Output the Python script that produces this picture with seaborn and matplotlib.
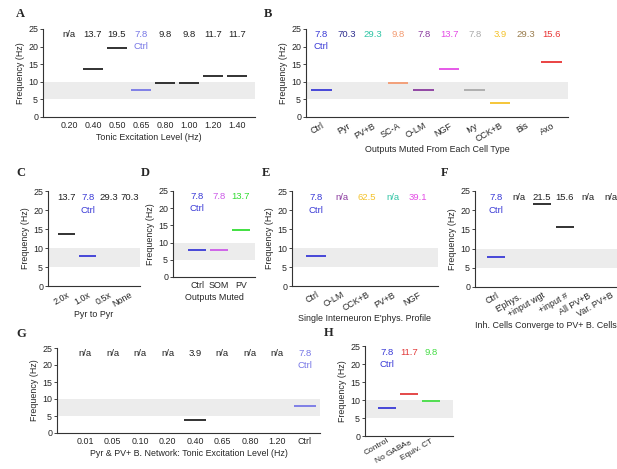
import numpy as np
import pandas as pd
import matplotlib
matplotlib.use("Agg")
import matplotlib.pyplot as plt
import seaborn as sns

sns.set_style("ticks")
plt.rcParams['font.family'] = ['Liberation Sans Narrow', 'Liberation Sans', 'DejaVu Sans']
plt.rcParams['mathtext.fontset'] = 'custom'
plt.rcParams['mathtext.rm'] = 'Liberation Sans Narrow'

NA = np.nan
BLACK = '#222222'
CTRL = '#3a3ad6'
LAV = '#7777e6'

# ---- data ----
A_cats = ['0.20', '0.40', '0.50', '0.65', '0.80', '1.00', '1.20', '1.40']
A_vals = [NA, 13.7, 19.5, 7.8, 9.8, 9.8, 11.7, 11.7]
A_cols = [BLACK, BLACK, BLACK, LAV, BLACK, BLACK, BLACK, BLACK]

B_cats = ['Ctrl', 'Pyr', 'PV+B', 'SC-A', 'O-LM', 'NGF', 'Ivy', 'CCK+B', 'Bis', 'Axo']
B_vals = [7.8, 70.3, 29.3, 9.8, 7.8, 13.7, 7.8, 3.9, 29.3, 15.6]
B_cols = [CTRL, '#2e2e8e', '#2ec4a4', '#f39a70', '#8a3a9e', '#e44ce6', '#aaaaaa',
          '#f4c22a', '#9a7d4e', '#e83434']

C_cats = ['2.0x', '1.0x', '0.5x', 'None']
C_vals = [13.7, 7.8, 29.3, 70.3]
C_cols = [BLACK, CTRL, BLACK, BLACK]

D_cats = ['Ctrl', 'SOM', 'PV']
D_vals = [7.8, 7.8, 13.7]
D_cols = [CTRL, '#cc5ae8', '#33dd33']

E_cats = ['Ctrl', 'O-LM', 'CCK+B', 'PV+B', 'NGF']
E_vals = [7.8, NA, 62.5, NA, 39.1]
E_cols = [CTRL, '#8a3a9e', '#f4c22a', '#2ec4a4', '#e44ce6']

F_cats = ['Ctrl', "E'phys.", '+input wgt', '+input #', 'All PV+B', 'Var. PV+B']
F_vals = [7.8, NA, 21.5, 15.6, NA, NA]
F_cols = [CTRL, BLACK, BLACK, BLACK, BLACK, BLACK]

G_cats = ['0.01', '0.05', '0.10', '0.20', '0.40', '0.65', '0.80', '1.20', 'Ctrl']
G_vals = [NA, NA, NA, NA, 3.9, NA, NA, NA, 7.8]
G_cols = [BLACK] * 8 + [LAV]

H_cats = ['Control', 'No GABA$_{\\mathrm{B}}$', 'Equiv. CT']
H_vals = [7.8, 11.7, 9.8]
H_cols = [CTRL, '#e23a3a', '#44dd44']

W, H = 617, 469
fig = plt.figure(figsize=(W / 100, H / 100), dpi=100)
FS = 6.4


def rect(l, r, t, b):
    return [l / W, 1 - b / H, (r - l) / W, (b - t) / H]


def panel(letter, box, cats, vals, cols, xlim, xlabel, rot, ctrl_idx,
          letter_xy, ylabel=True, xpad=3, xfs=FS):
    ax = fig.add_axes(rect(*box))
    df = pd.DataFrame({'cat': cats, 'val': vals, 'col': cols,
                       'x': np.arange(len(cats))})
    ax.axhspan(5, 10, color='#ececec', lw=0, zorder=0)
    for _, row in df.iterrows():
        if not np.isnan(row.val):
            ax.hlines(row.val, row.x - 0.4, row.x + 0.4, color=row.col,
                      lw=1.3, zorder=2)
        txt = 'n/a' if np.isnan(row.val) else f'{row.val:.1f}'
        ax.text(row.x, 23.3, txt, color=row.col, ha='center', va='center',
                fontsize=FS + 0.4)
    ax.text(ctrl_idx, 20.0, 'Ctrl', color=cols[ctrl_idx], ha='center',
            va='center', fontsize=FS + 0.4)
    ax.set_ylim(0, 25)
    ax.set_xlim(*xlim)
    ax.set_yticks([0, 5, 10, 15, 20, 25])
    ax.set_xticks(df.x)
    if rot:
        ax.set_xticklabels(cats, rotation=30, ha='right',
                           rotation_mode='anchor', fontsize=xfs)
    else:
        ax.set_xticklabels(cats, fontsize=xfs)
    ax.tick_params(axis='x', length=0, pad=xpad)
    ax.tick_params(axis='y', length=2, width=0.6, pad=1.5, labelsize=FS)
    if ylabel:
        ax.set_ylabel('Frequency (Hz)', fontsize=FS, labelpad=2)
    if xlabel:
        ax.set_xlabel(xlabel, fontsize=FS, labelpad=2 if not rot else 1)
    sns.despine(ax=ax)
    for s in ['left', 'bottom']:
        ax.spines[s].set_linewidth(0.8)
        ax.spines[s].set_color('#333333')
    fig.text(letter_xy[0] / W, 1 - letter_xy[1] / H, letter,
             family='Liberation Serif', weight='bold', fontsize=9,
             ha='left', va='center')
    return ax


panel('A', (43, 255, 29, 117), A_cats, A_vals, A_cols, (-1.08, 7.75),
      'Tonic Excitation Level (Hz)', False, 3, (16, 14))
panel('B', (306, 568, 29, 117), B_cats, B_vals, B_cols, (-0.6, 9.65),
      'Outputs Muted From Each Cell Type', True, 0, (264, 14))
panel('C', (48, 140, 191, 286), C_cats, C_vals, C_cols, (-0.9, 3.5),
      'Pyr to Pyr', True, 1, (16, 173))
panel('D', (173, 255, 191, 277), D_cats, D_vals, D_cols, (-1.1, 2.65),
      'Outputs Muted', False, 0, (141, 173))
panel('E', (292, 438, 191, 286), E_cats, E_vals, E_cols, (-0.94, 4.78),
      "Single Interneuron E'phys. Profile", True, 0, (262, 173))
panel('F', (475, 617, 191, 287), F_cats, F_vals, F_cols, (-0.9, 5.26),
      'Inh. Cells Converge to PV+ B. Cells', True, 0, (441, 173))
panel('G', (57, 320, 348, 433), G_cats, G_vals, G_cols, (-1.02, 8.55),
      'Pyr & PV+ B. Network: Tonic Excitation Level (Hz)', False, 8, (16, 334))
panel('H', (365, 453, 346, 436), H_cats, H_vals, H_cols, (-0.98, 3.0),
      None, True, 0, (324, 333), xpad=1.0, xfs=6.0)

fig.savefig('out.png', dpi=100)
